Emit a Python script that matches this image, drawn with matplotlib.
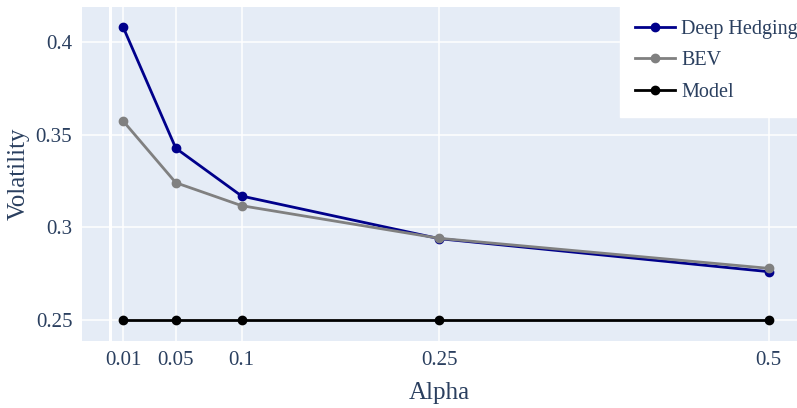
import matplotlib
matplotlib.use("Agg")
import matplotlib.pyplot as plt

# volatility for each alpha level
alpha = [0.01, 0.05, 0.1, 0.25, 0.5]
deep_hedging = [0.4081, 0.3427, 0.3169, 0.2939, 0.2761]
bev = [0.3574, 0.3241, 0.3117, 0.2941, 0.2779]
model = [0.25, 0.25, 0.25, 0.25, 0.25]

xticks = [0.01, 0.05, 0.1, 0.25, 0.5]
xticklabels = ["0.01", "0.05", "0.1", "0.25", "0.5"]
yticks = [0.25, 0.3, 0.35, 0.4]
yticklabels = ["0.25", "0.3", "0.35", "0.4"]

txt = "#2a3f5f"
plt.rcParams["font.family"] = ["Liberation Serif", "DejaVu Serif"]

W, H = 797, 408
fig = plt.figure(figsize=(W / 100, H / 100), dpi=100)
ax = fig.add_axes([82 / W, (H - 341) / H, (797 - 82) / W, (341 - 7) / H])
ax.set_facecolor("#E5ECF6")
for s in ax.spines.values():
    s.set_visible(False)

ax.set_xlim(-0.0212, 0.5215)
ax.set_ylim(0.2387, 0.4189)
ax.set_xticks(xticks)
ax.set_xticklabels(xticklabels)
ax.set_yticks(yticks)
ax.set_yticklabels(yticklabels)
ax.tick_params(length=0, labelsize=15, labelcolor=txt, pad=7)
ax.grid(True, color="white", linewidth=1.1)
ax.axvline(0, color="white", linewidth=2.2, zorder=1)
ax.set_axisbelow(True)

ax.plot(alpha, deep_hedging, color="#00008B", lw=2, marker="o", ms=6,
        label="Deep Hedging", zorder=4)
ax.plot(alpha, bev, color="grey", lw=2, marker="o", ms=6, label="BEV",
        zorder=5)
ax.plot(alpha, model, color="black", lw=2, marker="o", ms=6, label="Model",
        zorder=3)

ax.set_xlabel("Alpha", fontsize=18, color=txt, labelpad=9)
ax.set_ylabel("Volatility", fontsize=18, color=txt, labelpad=4)

# legend box over the top right corner, running to the figure edge
leg = fig.legend(loc="upper left", bbox_to_anchor=(620 / W, 1 - 5 / H),
                 frameon=True, fancybox=False, framealpha=1,
                 edgecolor="white", fontsize=14.5, handlelength=2.0,
                 borderpad=0.75, labelspacing=0.6, handletextpad=0.3,
                 borderaxespad=0)
for t in leg.get_texts():
    t.set_color(txt)

fig.savefig("out.png", dpi=100, facecolor="white")
